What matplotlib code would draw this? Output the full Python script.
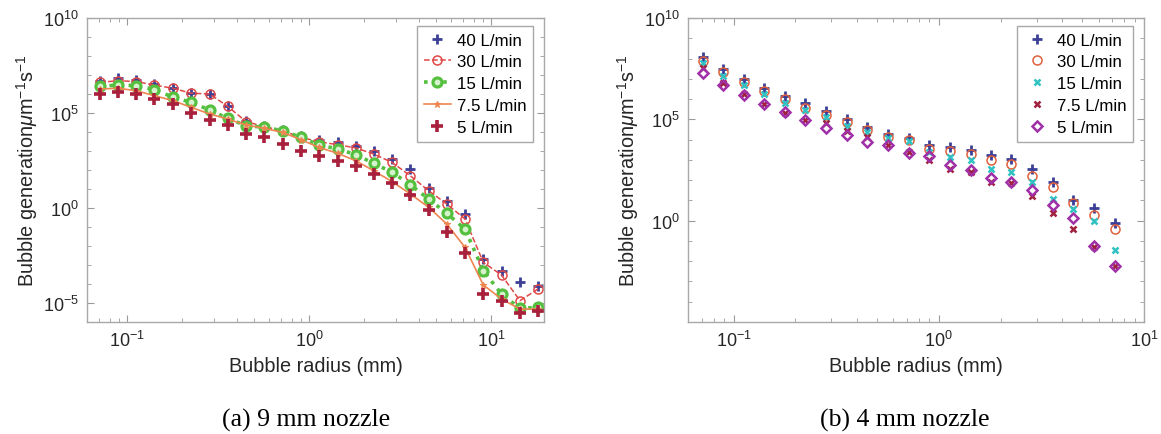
import numpy as np
import matplotlib
matplotlib.use("Agg")
import matplotlib.pyplot as plt
from matplotlib.ticker import (LogLocator, FixedLocator, LogFormatterSciNotation,
                               NullFormatter)

plt.rcParams["font.family"] = ["Liberation Sans", "DejaVu Sans"]
plt.rcParams["mathtext.fontset"] = "custom"
plt.rcParams["mathtext.rm"] = "Liberation Sans"
plt.rcParams["mathtext.it"] = "Liberation Sans:italic"
plt.rcParams["axes.unicode_minus"] = False

# bubble radius bins (mm)
radius = [0.0707, 0.0891, 0.112, 0.141, 0.178, 0.224, 0.283, 0.356, 0.449,
          0.566, 0.713, 0.898, 1.13, 1.43, 1.80, 2.26, 2.85, 3.59, 4.53,
          5.70, 7.18, 9.05, 11.4, 14.4, 18.1]

# (a) 9 mm nozzle, log10 of bubble generation
a_40 = [6.70, 6.84, 6.74, 6.53, 6.30, 6.04, 6.00, 5.38, 4.60, 4.33, 4.10, 3.81,
        3.60, 3.46, 3.28, 2.98, 2.58, 2.05, 1.05, 0.39, -0.32, -2.68, -3.30,
        -3.88, -4.12]
a_30 = [6.61, 6.70, 6.65, 6.47, 6.30, 6.04, 6.00, 5.35, 4.55, 4.28, 4.07, 3.72,
        3.49, 3.33, 3.16, 2.84, 2.40, 1.70, 0.91, 0.21, -0.58, -2.86, -3.53,
        -4.88, -4.26]
a_15 = [6.40, 6.47, 6.44, 6.23, 5.83, 5.56, 5.16, 4.72, 4.33, 4.25, 4.07, 3.72,
        3.32, 3.11, 2.81, 2.35, 1.88, 1.23, 0.47, -0.28, -1.11, -3.30, -4.53,
        -5.28, -5.23]
a_75 = [6.26, 6.30, 6.17, 5.91, 5.65, 5.30, 4.95, 4.68, 4.37, 4.19, 3.98, 3.60,
        3.19, 2.88, 2.49, 1.96, 1.39, 0.74, 0.04, -0.84, -2.07, -4.05, -4.79,
        -5.32, -5.32]
a_5 = [6.00, 6.12, 6.00, 5.74, 5.47, 4.98, 4.65, 4.37, 3.89, 3.75, 3.37, 3.02,
       2.75, 2.46, 2.23, 1.79, 1.30, 0.68, -0.11, -1.28, -2.39, -4.53, -4.88,
       -5.53, -5.40]

# (b) 4 mm nozzle, log10 of bubble generation (first 21 bins)
b_40 = [8.06, 7.49, 6.98, 6.54, 6.16, 5.80, 5.42, 5.02, 4.60, 4.27, 4.10, 3.71,
        3.61, 3.50, 3.25, 3.04, 2.56, 1.91, 1.03, 0.62, -0.11]
b_30 = [7.90, 7.32, 6.83, 6.40, 5.99, 5.58, 5.22, 4.86, 4.48, 4.15, 3.99, 3.53,
        3.46, 3.30, 3.00, 2.81, 2.22, 1.64, 0.87, 0.30, -0.41]
b_15 = [7.77, 7.16, 6.67, 6.24, 5.80, 5.47, 5.09, 4.69, 4.37, 4.10, 3.91, 3.41,
        3.14, 3.00, 2.56, 2.38, 1.89, 1.07, 0.59, -0.03, -1.46]
b_75 = [7.52, 6.78, 6.24, 5.76, 5.31, 4.98, 4.81, 4.43, 4.15, 3.74, 3.38, 3.00,
        2.55, 2.38, 1.89, 1.86, 1.20, 0.38, -0.41, -1.30, -2.25]
b_5 = [7.28, 6.70, 6.21, 5.75, 5.34, 4.98, 4.57, 4.24, 3.86, 3.71, 3.36, 3.20,
       2.76, 2.51, 2.10, 1.89, 1.49, 0.79, 0.13, -1.27, -2.25]

labels = ["40 L/min", "30 L/min", "15 L/min", "7.5 L/min", "5 L/min"]

navy = "#3b3f96"
darkred = "#a8203c"

fig = plt.figure(figsize=(11.61, 4.35), dpi=100)
ax1 = fig.add_axes([0.0749, 0.2575, 0.3936, 0.6989])
ax2 = fig.add_axes([0.5926, 0.2575, 0.3928, 0.6989])
for ax in (ax1, ax2):
    ax.set_xscale("log")
    ax.set_yscale("log")

x = np.array(radius)
ax1.plot(x, 10 ** np.array(a_40), "+", color=navy, ms=7, mew=2, label=labels[0])
ax1.plot(x, 10 ** np.array(a_30), "--o", color="#e04848", ms=6.5, mew=1.1, lw=1.1,
         mfc="none", label=labels[1])
ax1.plot(x, 10 ** np.array(a_15), ":o", color="#55c03f", ms=6.5, mew=2.3, lw=2.6,
         mfc="#d4f2cc", label=labels[2])
ax1.plot(x, 10 ** np.array(a_75), "-*", color="#ee8550", ms=5, mew=0.8, lw=1.2,
         label=labels[3])
ax1.plot(x, 10 ** np.array(a_5), "+", color=darkred, ms=8, mew=2.6, label=labels[4])

xb = x[:len(b_40)]
ax2.plot(xb, 10 ** np.array(b_40), "+", color=navy, ms=7, mew=2, label=labels[0])
ax2.plot(xb, 10 ** np.array(b_30), "o", color="#e0603c", ms=6.5, mew=1.1,
         mfc="none", label=labels[1])
ax2.plot(xb, 10 ** np.array(b_15), "x", color="#30c2c2", ms=5, mew=1.8, label=labels[2])
ax2.plot(xb, 10 ** np.array(b_75), "x", color="#a0203e", ms=5, mew=1.8, label=labels[3])
ax2.plot(xb, 10 ** np.array(b_5), "D", color="#a030a8", ms=5.5, mew=1.8,
         mfc="none", label=labels[4])

ax1.set_xlim(0.06, 19.5)
ax1.set_ylim(1e-6, 1e10)
ax1.yaxis.set_major_locator(FixedLocator([1e-5, 1e0, 1e5, 1e10]))
ax2.set_xlim(0.06, 10)
ax2.set_ylim(1e-5, 1e10)
ax2.yaxis.set_major_locator(FixedLocator([1e0, 1e5, 1e10]))

for ax in (ax1, ax2):
    ax.xaxis.set_major_locator(LogLocator(base=10, numticks=10))
    ax.xaxis.set_minor_locator(LogLocator(base=10, subs=np.arange(2, 10), numticks=10))
    ax.xaxis.set_minor_formatter(NullFormatter())
    ax.yaxis.set_minor_locator(LogLocator(base=10, subs=[1.0], numticks=30))
    ax.yaxis.set_minor_formatter(NullFormatter())
    ax.yaxis.set_major_formatter(LogFormatterSciNotation())
    ax.tick_params(which="both", direction="in", top=True, right=True,
                   color="#9a9a9a", labelcolor="#262626", labelsize=13)
    ax.tick_params(which="major", length=5, width=0.8, pad=6)
    ax.tick_params(which="minor", length=3, width=0.6)
    for s in ax.spines.values():
        s.set_color("#a8a8a8")
        s.set_linewidth(1.0)
    ax.set_xlabel("Bubble radius (mm)", fontsize=14.3, color="#262626", labelpad=4)
    ax.set_ylabel(r"Bubble generation$\mu$m$^{-1}$s$^{-1}$", fontsize=14.3,
                  color="#262626", labelpad=2)
    leg = ax.legend(loc="upper right", bbox_to_anchor=(0.976, 0.974),
                    borderaxespad=0, fontsize=12.2, handlelength=1.6,
                    handletextpad=0.35, labelspacing=0.4, borderpad=0.4,
                    fancybox=False, framealpha=1)
    leg.get_frame().set_edgecolor("#a8a8a8")
    leg.get_frame().set_linewidth(1.0)

fig.text(0.2636, 0.0345, "(a) 9 mm nozzle", ha="center", va="center",
         fontsize=18.5, family="Liberation Serif")
fig.text(0.7795, 0.0345, "(b) 4 mm nozzle", ha="center", va="center",
         fontsize=18.5, family="Liberation Serif")

fig.savefig("out.png", dpi=100)
